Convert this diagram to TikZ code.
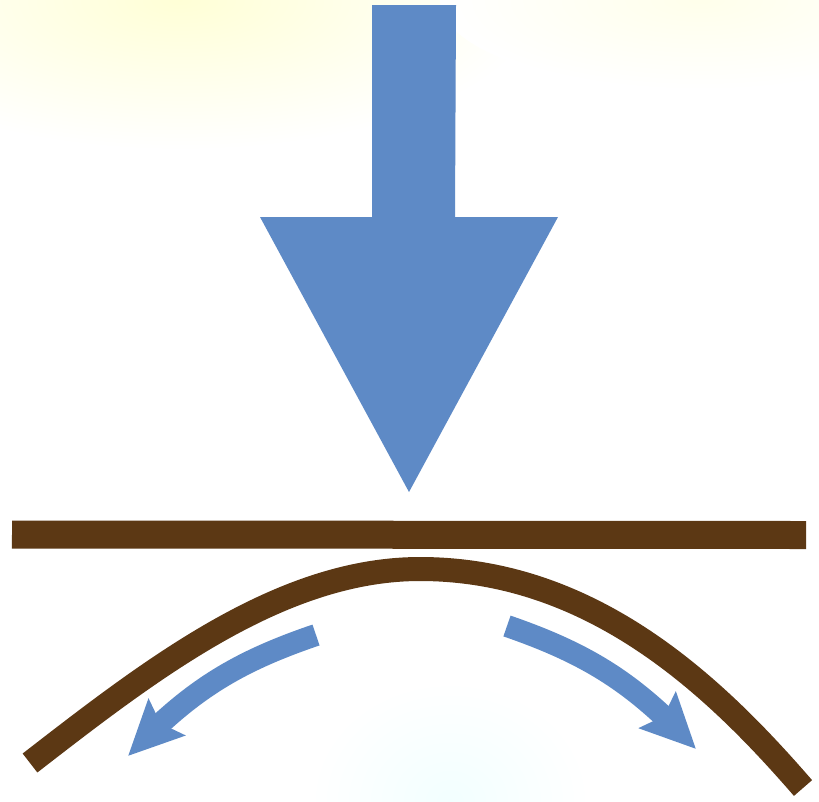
\documentclass[tikz,border=0pt]{standalone}
\usetikzlibrary{arrows.meta,bending}
\definecolor{forceblue}{RGB}{94,138,198}
\definecolor{woodbrown}{RGB}{92,56,20}
\tikzset{
  bigforce/.style={fill=forceblue},
  beam/.style={draw=woodbrown, line width=28pt},
  bentbeam/.style={draw=woodbrown, line width=24pt},
  flowarrow/.style={draw=forceblue, line width=22pt, -{Stealth[length=54pt,width=50pt,inset=8pt,flex]}},
}
\begin{document}
\begin{tikzpicture}[x=1pt,y=-1pt]
\fill[white] (0,0) rectangle (819,801);
\useasboundingbox (0,0) rectangle (819,801);
% faint background tint
\shade[inner color=yellow!16, outer color=white] (180,0) ellipse [x radius=360, y radius=150];
\shade[inner color=yellow!8, outer color=white] (700,0) ellipse [x radius=260, y radius=90];
\shade[inner color=cyan!5, outer color=white] (450,801) ellipse [x radius=140, y radius=120];
% big downward arrow
\fill[bigforce] (372,5) -- (456,5) -- (455,217) -- (558,217) -- (409,492) -- (260,217) -- (372,217) -- cycle;
% straight beam
\draw[beam] (12,534.5) -- (806,535);
% bent beam
\coordinate (bl) at (30,763);
\coordinate (bp) at (420,569);
\coordinate (br) at (803,788);
\draw[bentbeam] (bl) .. controls (150,670) and (280,569) .. (bp)
                     .. controls (595,569) and (718,690) .. (br);
% small curved arrows
\coordinate (lt) at (316,635);
\coordinate (lh) at (128,756);
\coordinate (rt) at (507,626);
\coordinate (rh) at (696,749);
\draw[flowarrow] (lt) to[bend right=14] (lh);
\draw[flowarrow] (rt) to[bend left=14] (rh);
\end{tikzpicture}
\end{document}
